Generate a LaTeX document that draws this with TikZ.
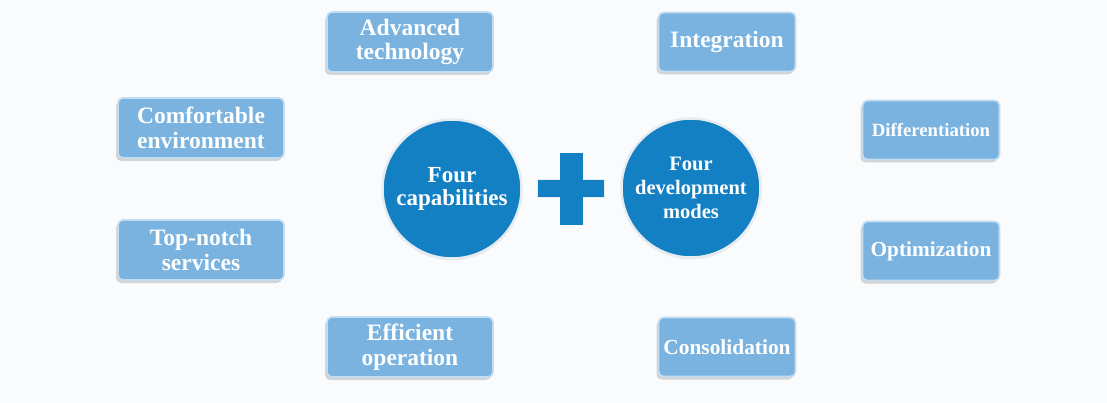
\documentclass[tikz,border=0pt]{standalone}
\usepackage{fontspec}
\setmainfont{Liberation Serif}
\usetikzlibrary{shadows}
\definecolor{pagebg}{HTML}{FAFBFC}
\definecolor{boxblue}{HTML}{7AB3E0}
\definecolor{boxedge}{HTML}{C2DCF1}
\definecolor{discblue}{HTML}{1380C4}
\definecolor{discedge}{HTML}{E6ECF0}
\newcommand{\txt}[2]{\bfseries\fontsize{#1}{#2}\selectfont}
\tikzset{
  itembox/.style={rounded corners=5pt, fill=boxblue, draw=boxedge, line width=1.6pt,
    drop shadow={shadow xshift=-2pt, shadow yshift=-3pt, opacity=0.35, fill=black!45},
    text=white, align=center, inner sep=0pt},
  widebox/.style={itembox, minimum width=166pt, minimum height=60pt, font=\txt{23.5}{24.5}},
  narrowbox/.style={itembox, minimum width=137pt, minimum height=59pt},
  disc/.style={circle, fill=discblue, draw=discedge, line width=2.5pt, minimum size=139pt,
    drop shadow={shadow xshift=0pt, shadow yshift=-2pt, opacity=0.15, fill=black!40},
    text=white, align=center, inner sep=0pt}
}
\begin{document}
\begin{tikzpicture}[x=1pt,y=-1pt]
  \fill[pagebg] (0,0) rectangle (1107,403);
  \useasboundingbox (0,0) rectangle (1107,403);

  % central discs
  \node[disc, font=\txt{23}{23}] (cap) at (452,189) {Four\\capabilities};
  \node[disc, font=\txt{20.5}{24}] (modes) at (691,188) {Four\\development\\modes};

  % plus sign between the discs
  \node[fill=discblue, draw=discedge, line width=1pt, minimum width=67pt, minimum height=18pt, inner sep=0pt] (plush) at (571,189) {};
  \node[fill=discblue, minimum width=23pt, minimum height=72pt, inner sep=0pt] (plusv) at (571,189) {};
  \node[fill=discblue, minimum width=64pt, minimum height=16pt, inner sep=0pt] (plusc) at (571,189) {};

  % four capabilities
  \node[widebox] (tech) at (410,42) {Advanced\\technology};
  \node[widebox] (env) at (201,128) {Comfortable\\environment};
  \node[widebox] (serv) at (201,250) {Top-notch\\services};
  \node[widebox] (oper) at (410,347) {Efficient\\operation};

  % four development modes
  \node[narrowbox, font=\txt{23.5}{24}] (integ) at (727,42) {Integration};
  \node[narrowbox, font=\txt{18.7}{20}] (diff) at (931,130) {Differentiation};
  \node[narrowbox, font=\txt{21.3}{22}] (optim) at (931,251) {Optimization};
  \node[narrowbox, font=\txt{21.4}{22}] (consol) at (727,347) {Consolidation};
\end{tikzpicture}
\end{document}
